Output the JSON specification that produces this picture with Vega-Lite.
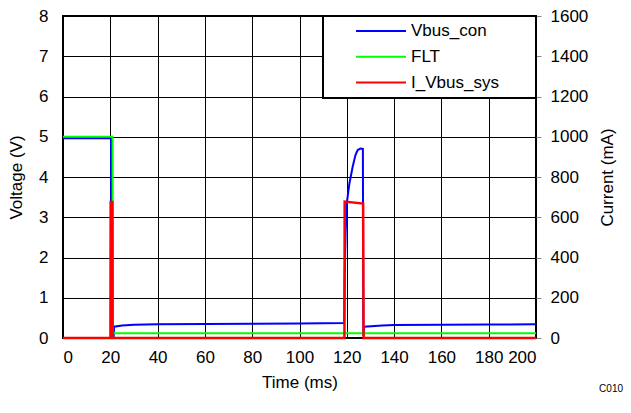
{
  "$schema": "https://vega.github.io/schema/vega-lite/v6.json",
  "width": 473,
  "height": 322,
  "autosize": {"type": "none"},
  "padding": {"left": 63, "top": 16, "right": 95, "bottom": 75},
  "background": "#ffffff",
  "title": {"text": "C010", "orient": "bottom", "anchor": "end", "frame": "group", "fontSize": 10, "fontWeight": "normal", "font": "Liberation Sans", "color": "#000", "offset": -6, "dx": 87},
  "data": {"values": [
    {"t": 0, "s": "Vbus_con", "v": 4.96},
    {"t": 20.3, "s": "Vbus_con", "v": 4.96},
    {"t": 20.35, "s": "Vbus_con", "v": 4.7},
    {"t": 20.45, "s": "Vbus_con", "v": 0},
    {"t": 21.4, "s": "Vbus_con", "v": 0},
    {"t": 21.6, "s": "Vbus_con", "v": 0.28},
    {"t": 25, "s": "Vbus_con", "v": 0.31},
    {"t": 30, "s": "Vbus_con", "v": 0.33},
    {"t": 40, "s": "Vbus_con", "v": 0.34},
    {"t": 60, "s": "Vbus_con", "v": 0.35},
    {"t": 80, "s": "Vbus_con", "v": 0.355},
    {"t": 100, "s": "Vbus_con", "v": 0.36},
    {"t": 118.9, "s": "Vbus_con", "v": 0.37},
    {"t": 119.1, "s": "Vbus_con", "v": 1.5},
    {"t": 119.5, "s": "Vbus_con", "v": 2.6},
    {"t": 120, "s": "Vbus_con", "v": 3.35},
    {"t": 121.1, "s": "Vbus_con", "v": 3.84},
    {"t": 122.5, "s": "Vbus_con", "v": 4.26},
    {"t": 123.7, "s": "Vbus_con", "v": 4.55},
    {"t": 124.6, "s": "Vbus_con", "v": 4.67},
    {"t": 125.8, "s": "Vbus_con", "v": 4.71},
    {"t": 126.8, "s": "Vbus_con", "v": 4.7},
    {"t": 127.0, "s": "Vbus_con", "v": 0.05},
    {"t": 127.3, "s": "Vbus_con", "v": 0.28},
    {"t": 135, "s": "Vbus_con", "v": 0.31},
    {"t": 140, "s": "Vbus_con", "v": 0.32},
    {"t": 160, "s": "Vbus_con", "v": 0.33},
    {"t": 180, "s": "Vbus_con", "v": 0.335},
    {"t": 200, "s": "Vbus_con", "v": 0.34},
    {"t": 0, "s": "FLT", "v": 5.0},
    {"t": 20.95, "s": "FLT", "v": 5.0},
    {"t": 21.05, "s": "FLT", "v": 0.12},
    {"t": 200, "s": "FLT", "v": 0.12},
    {"t": 0, "s": "I_Vbus_sys", "v": 0},
    {"t": 20.05, "s": "I_Vbus_sys", "v": 0},
    {"t": 20.15, "s": "I_Vbus_sys", "v": 676},
    {"t": 20.9, "s": "I_Vbus_sys", "v": 676},
    {"t": 21.0, "s": "I_Vbus_sys", "v": 0},
    {"t": 119.0, "s": "I_Vbus_sys", "v": 0},
    {"t": 119.1, "s": "I_Vbus_sys", "v": 678},
    {"t": 126.9, "s": "I_Vbus_sys", "v": 668},
    {"t": 127.1, "s": "I_Vbus_sys", "v": 0},
    {"t": 200, "s": "I_Vbus_sys", "v": 0}
  ]},
  "encoding": {
    "x": {
      "field": "t", "type": "quantitative",
      "scale": {"domain": [0, 200], "nice": false},
      "axis": {"title": "Time (ms)", "values": [0, 20, 40, 60, 80, 100, 120, 140, 160, 180, 200], "ticks": false, "labelPadding": 11, "titlePadding": 9, "grid": true}
    }
  },
  "layer": [
    {
      "encoding": {
        "y": {
          "field": "v", "type": "quantitative",
          "scale": {"domain": [0, 8], "nice": false},
          "axis": {"title": "Voltage (V)", "values": [0, 1, 2, 3, 4, 5, 6, 7, 8], "ticks": false, "labelPadding": 15, "titlePadding": 13, "grid": true}
        }
      },
      "layer": [
        {
          "transform": [{"filter": "datum.s === 'Vbus_con'"}],
          "mark": {"type": "line", "strokeWidth": 2},
          "encoding": {
            "color": {"field": "s", "type": "nominal", "scale": {"domain": ["Vbus_con", "FLT", "I_Vbus_sys"], "range": ["#0000ff", "#00ff00", "#ff0000"]}, "legend": {"title": null}}
          }
        },
        {
          "transform": [{"filter": "datum.s === 'FLT'"}],
          "mark": {"type": "line", "strokeWidth": 2},
          "encoding": {
            "color": {"field": "s", "type": "nominal", "scale": {"domain": ["Vbus_con", "FLT", "I_Vbus_sys"], "range": ["#0000ff", "#00ff00", "#ff0000"]}, "legend": {"title": null}}
          }
        }
      ]
    },
    {
      "transform": [{"filter": "datum.s === 'I_Vbus_sys'"}],
      "mark": {"type": "line", "strokeWidth": 2.5},
      "encoding": {
        "y": {
          "field": "v", "type": "quantitative",
          "scale": {"domain": [0, 1600], "nice": false},
          "axis": {"orient": "right", "title": "Current (mA)", "format": "d", "values": [0, 200, 400, 600, 800, 1000, 1200, 1400, 1600], "grid": false, "ticks": true, "tickSize": 5, "tickColor": "#888888", "labelPadding": 9, "titlePadding": 12, "titleAngle": 270, "titleBaseline": "top"}
        },
        "color": {"field": "s", "type": "nominal", "scale": {"domain": ["Vbus_con", "FLT", "I_Vbus_sys"], "range": ["#0000ff", "#00ff00", "#ff0000"]}, "legend": {"title": null}}
      }
    }
  ],
  "resolve": {"scale": {"y": "independent"}},
  "config": {
    "font": "Liberation Sans",
    "view": {"stroke": "#000000", "strokeWidth": 2},
    "axis": {
      "labelFont": "Liberation Sans", "labelFontSize": 17, "labelColor": "#000000",
      "titleFont": "Liberation Sans", "titleFontSize": 17, "titleFontWeight": "normal", "titleColor": "#000000",
      "domain": false, "gridColor": "#000000", "gridOpacity": 1, "gridWidth": 1
    },
    "legend": {
      "orient": "top-right", "offset": 0, "fillColor": "#ffffff", "strokeColor": "#000000", "strokeWidth": 2,
      "padding": 6.5, "labelFont": "Liberation Sans", "labelFontSize": 17, "labelColor": "#000000",
      "symbolType": "M3.6,0H13.6M37.5,0", "symbolSize": 100, "symbolStrokeWidth": 2,
      "labelOffset": 64.5, "rowPadding": 7.8
    }
  }
}
